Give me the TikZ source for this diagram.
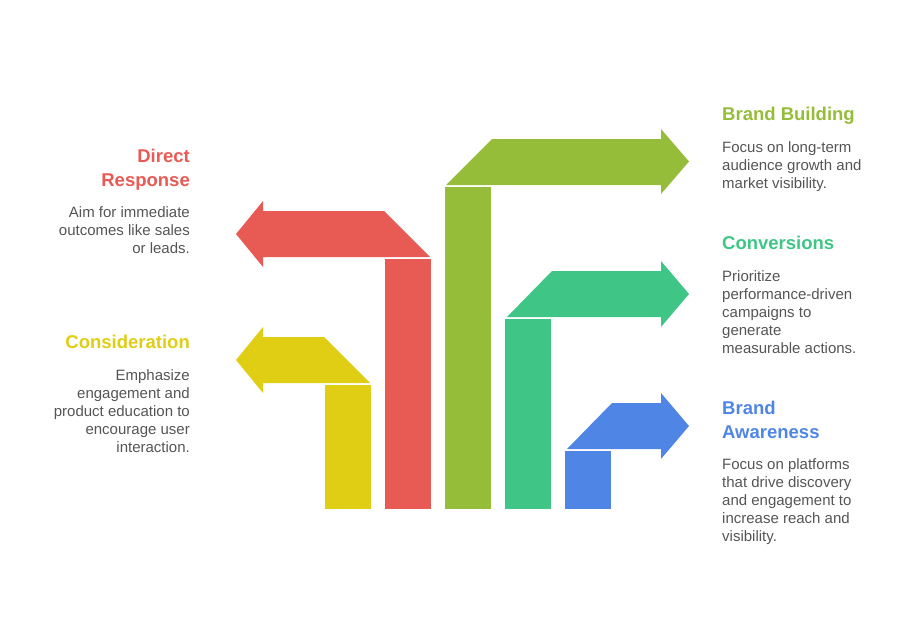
\documentclass[tikz,border=0pt]{standalone}
\usepackage{fontspec}
\setmainfont{Liberation Sans}
\usetikzlibrary{positioning}
\definecolor{cRed}{HTML}{E85A54}
\definecolor{cOlive}{HTML}{96BD3A}
\definecolor{cGreen}{HTML}{3FC686}
\definecolor{cBlue}{HTML}{4F86E6}
\definecolor{cYellow}{HTML}{E0CE14}
\definecolor{cBody}{HTML}{555555}
\tikzset{
bar/.style = {rectangle, inner sep=0pt, minimum width=46pt, anchor=south west},
title/.style = {inner sep=0pt, font=\fontsize{18.5}{24}\selectfont\bfseries},
titleR/.style = {title, align=left, anchor=north west},
titleL/.style = {title, align=right, anchor=north east},
body/.style = {inner sep=0pt, text=cBody, font=\fontsize{15}{18}\selectfont},
bodyR/.style = {body, align=left, anchor=north west},
bodyL/.style = {body, align=right, anchor=north east}
}

\begin{document}
\begin{tikzpicture}[x=1pt,y=-1pt]
    \useasboundingbox (0,0) rectangle (912,618);

    % columns
    \node [bar,fill=cYellow,minimum height=124pt] (barYellow) at (325,509) {};
    \node [bar,fill=cRed,minimum height=250pt] (barRed) at (385,509) {};
    \node [bar,fill=cOlive,minimum height=322pt] (barOlive) at (445,509) {};
    \node [bar,fill=cGreen,minimum height=190pt] (barGreen) at (505,509) {};
    \node [bar,fill=cBlue,minimum height=58pt] (barBlue) at (565,509) {};

    % arrow heads
    \fill[cYellow] (370,383) -- (324,337) -- (263,337) -- (263,327) -- (236,360) -- (263,393) -- (263,383) -- cycle;
    \fill[cRed] (430,257) -- (384,211) -- (263,211) -- (263,201) -- (236,234) -- (263,267) -- (263,257) -- cycle;
    \fill[cOlive] (446,185) -- (492,139) -- (661,139) -- (661,129) -- (689,161.5) -- (661,194) -- (661,185) -- cycle;
    \fill[cGreen] (507,317) -- (552,271) -- (661,271) -- (661,261) -- (689,294) -- (661,327) -- (661,317) -- cycle;
    \fill[cBlue] (567,449) -- (612,403) -- (661,403) -- (661,393) -- (689,426) -- (661,459) -- (661,449) -- cycle;

    % right side
    \node [titleR,text=cOlive] (titleBuilding) at (722,103.7) {Brand Building\strut};
    \node [bodyR,below=13pt of titleBuilding.south west,anchor=north west] (textBuilding)
      {Focus on long-term\\audience growth and\\market visibility.};

    \node [titleR,text=cGreen] (titleConv) at (722,232.7) {Conversions\strut};
    \node [bodyR,below=13pt of titleConv.south west,anchor=north west] (textConv)
      {Prioritize\\performance-driven\\campaigns to\\generate\\measurable actions.};

    \node [titleR,text=cBlue] (titleAware) at (722,400.5) {Brand\\Awareness\strut};
    \node [bodyR,below=13pt of titleAware.south west,anchor=north west] (textAware)
      {Focus on platforms\\that drive discovery\\and engagement to\\increase reach and\\visibility.};

    % left side
    \node [titleL,text=cRed] (titleDirect) at (190,148.5) {Direct\\Response\strut};
    \node [bodyL,below=13pt of titleDirect.south east,anchor=north east] (textDirect)
      {Aim for immediate\\outcomes like sales\\or leads.};

    \node [titleL,text=cYellow] (titleCons) at (190,331.7) {Consideration\strut};
    \node [bodyL,below=13pt of titleCons.south east,anchor=north east] (textCons)
      {Emphasize\\engagement and\\product education to\\encourage user\\interaction.};

\end{tikzpicture}
\end{document}
